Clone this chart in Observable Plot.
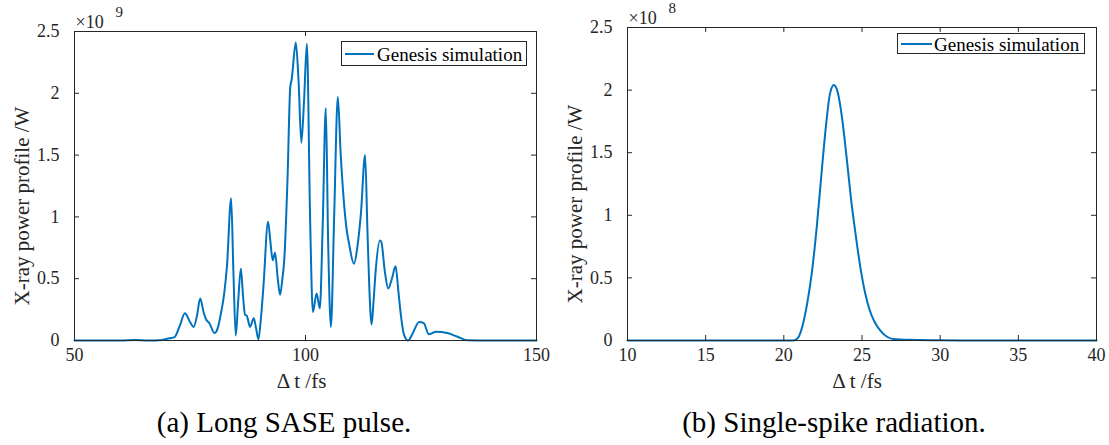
<!DOCTYPE html>
<html>
<head>
<meta charset="utf-8">
<script src="https://cdn.jsdelivr.net/npm/d3@7"></script>
<script src="https://cdn.jsdelivr.net/npm/@observablehq/plot@0.6"></script>
<style>
  body { margin: 0; background: #fff; }
  #wrap { position: relative; width: 1109px; height: 445px; overflow: hidden; font-family: 'Liberation Serif'; background: #fff; }
  .panel { position: absolute; top: 0; }
  .legend { position: absolute; border: 1px solid #262626; background: #fff; box-sizing: border-box; }
  .legend .ln { position: absolute; height: 2px; background: #0072BD; }
  .legend .tx { position: absolute; font-family: 'Liberation Serif'; font-size: 19px; color: #000; white-space: nowrap; line-height: 1; }
  .caption { position: absolute; text-align: center; font-family: 'Liberation Serif'; font-size: 29px; color: #000; white-space: nowrap; }
  svg text { font-family: 'Liberation Serif'; }
</style>
</head>
<body>
<div id="wrap">
  <div class="panel" id="pa" style="left:0px"></div>
  <div class="panel" id="pb" style="left:555px"></div>
  <div class="legend" style="left:341px;top:41px;width:186px;height:25px">
    <div class="ln" style="left:3px;width:29px;top:11px"></div>
    <div class="tx" style="left:35px;top:3px">Genesis simulation</div>
  </div>
  <div class="legend" style="left:897px;top:33px;width:188px;height:21px">
    <div class="ln" style="left:3px;width:31px;top:9px"></div>
    <div class="tx" style="left:36px;top:1px">Genesis simulation</div>
  </div>
  <div class="caption" style="left:0px;width:568px;top:406px">(a) Long SASE pulse.</div>
  <div class="caption" style="left:560px;width:548px;top:406px">(b) Single-spike radiation.</div>
</div>
<script>
// ---- Panel (a): long SASE pulse, power in units of 1e9 W ----
const tA = [50, 60, 63, 66, 69, 70.5, 71.6, 72.8, 73.9, 75.0, 75.8, 76.5, 77.2, 78.0, 78.5, 79.2, 80.3, 81.0, 81.7, 82.4, 83.0, 83.9, 84.4, 84.9, 85.4, 86.0, 86.5, 86.9, 87.3, 88.0, 88.8, 89.3, 89.8, 90.4, 90.9, 91.9, 92.4, 92.9, 93.4, 94.0, 94.5, 95.0, 95.4, 96.1, 96.7, 97.0, 97.9, 98.5, 99.1, 99.7, 100.3, 101.0, 101.6, 102.4, 103.1, 103.7, 104.4, 104.9, 105.5, 106.2, 107.0, 107.6, 108.9, 109.4, 110.5, 111.2, 112.0, 112.9, 113.4, 113.8, 114.3, 114.7, 115.2, 116.1, 116.4, 117.2, 117.9, 118.7, 119.5, 120.1, 120.6, 121.3, 122.2, 123.1, 124.6, 125.6, 126.7, 128.2, 130.7, 132.9, 135.0, 140, 150];
const pA = [0, 0, 0.004, 0, 0.005, 0.018, 0.025, 0.12, 0.22, 0.15, 0.11, 0.2, 0.34, 0.22, 0.17, 0.14, 0.06, 0.1, 0.22, 0.38, 0.6, 1.15, 0.55, 0.04, 0.3, 0.58, 0.35, 0.21, 0.20, 0.11, 0.18, 0.1, 0.01, 0.2, 0.44, 0.96, 0.8, 0.65, 0.71, 0.5, 0.37, 0.5, 0.65, 1.30, 2.05, 2.11, 2.41, 2.1, 1.60, 1.95, 2.40, 0.98, 0.23, 0.38, 0.26, 0.9, 1.88, 0.8, 0.11, 1.0, 1.97, 1.52, 0.90, 0.79, 0.62, 0.75, 1.03, 1.50, 0.9, 0.44, 0.13, 0.3, 0.57, 0.81, 0.80, 0.55, 0.42, 0.5, 0.60, 0.4, 0.22, 0.05, 0.0, 0.05, 0.15, 0.14, 0.05, 0.07, 0.06, 0.03, 0.003, 0, 0];
const xTicksA = [50, 100, 150];
const yTicksA = [0, 0.5, 1, 1.5, 2, 2.5];
const expA = "9";

// ---- Panel (b): single-spike radiation, power in units of 1e8 W ----
const tB = [10, 20.6, 20.9, 21.2, 21.5, 21.8, 22.1, 22.4, 22.7, 22.95, 23.2, 23.45, 23.7, 24.0, 24.3, 24.6, 24.9, 25.2, 25.5, 25.8, 26.2, 26.6, 27.0, 28.0, 30.0, 33.0, 40];
const pB = [0, 0, 0.02, 0.12, 0.30, 0.55, 0.90, 1.32, 1.72, 1.97, 2.04, 1.98, 1.80, 1.48, 1.13, 0.84, 0.58, 0.38, 0.24, 0.15, 0.075, 0.03, 0.012, 0.005, 0.002, 0, 0];
const xTicksB = [10, 15, 20, 25, 30, 35, 40];
const yTicksB = [0, 0.5, 1, 1.5, 2, 2.5];
const expB = "8";

const seriesName = "Genesis simulation";
const xLabel = "Δ t /fs";
const yLabel = "X-ray power profile /W";

const AXIS = "#262626";
const LINE = "#0072BD";
const FONT = "Liberation Serif";

function panel({t, p, xTicks, yTicks, xDomain, exp, width, height, mL, mR, mT, mB, yLabelDy, xLabelDx}) {
  const data = t.map((d, i) => ({t: d, p: p[i]}));
  const fw = width - mL - mR, fh = height - mT - mB;
  const tick = 5;
  return Plot.plot({
    width, height,
    marginLeft: mL, marginRight: mR, marginTop: mT, marginBottom: mB,
    style: {fontFamily: FONT, fontSize: "18px", color: AXIS, background: "transparent", overflow: "visible"},
    x: {domain: xDomain},
    y: {domain: [0, 2.5]},
    marks: [
      Plot.line(data, {x: "t", y: "p", stroke: LINE, strokeWidth: 2, curve: "monotone-x"}),
      Plot.frame({stroke: AXIS, strokeWidth: 1}),
      // inward ticks on all four sides
      Plot.ruleX(xTicks, {stroke: AXIS, insetTop: fh - tick}),
      Plot.ruleX(xTicks, {stroke: AXIS, insetBottom: fh - tick}),
      Plot.ruleY(yTicks, {stroke: AXIS, insetRight: fw - tick}),
      Plot.ruleY(yTicks, {stroke: AXIS, insetLeft: fw - tick}),
      Plot.axisX({ticks: xTicks, tickSize: 0, tickPadding: 8, tickFormat: d => String(d), label: null, fill: AXIS, fontSize: 18, fontFamily: FONT}),
      Plot.axisY({ticks: yTicks, tickSize: 0, tickPadding: 15, tickFormat: d => String(d), label: null, fill: AXIS, fontSize: 18, fontFamily: FONT}),
      Plot.text([yLabel], {frameAnchor: "left", text: d => d, rotate: -90, dx: -52, dy: yLabelDy, fontSize: 21, fontFamily: FONT, fill: AXIS, textAnchor: "middle", lineAnchor: "middle"}),
      Plot.text([xLabel], {frameAnchor: "bottom", text: d => d, dx: xLabelDx, dy: 41, fontSize: 21, fontFamily: FONT, fill: AXIS, textAnchor: "middle", lineAnchor: "middle"}),
      Plot.text(["×10"], {frameAnchor: "top-left", text: d => d, dx: 1, dy: -4, fontSize: 18, fontFamily: FONT, fill: AXIS, textAnchor: "start", lineAnchor: "bottom"}),
      Plot.text([exp], {frameAnchor: "top-left", text: d => d, dx: 41, dy: -15, fontSize: 15, fontFamily: FONT, fill: AXIS, textAnchor: "start", lineAnchor: "bottom"})
    ]
  });
}

document.getElementById("pa").appendChild(panel({
  t: tA, p: pA, xTicks: xTicksA, yTicks: yTicksA, xDomain: [50, 150], exp: expA,
  width: 555, height: 380, mL: 74, mR: 19, mT: 31, mB: 40, yLabelDy: 20, xLabelDx: -4
}));
document.getElementById("pb").appendChild(panel({
  t: tB, p: pB, xTicks: xTicksB, yTicks: yTicksB, xDomain: [10, 40], exp: expB,
  width: 554, height: 380, mL: 72, mR: 13, mT: 27, mB: 40, yLabelDy: 20, xLabelDx: -5
}));
</script>
</body>
</html>
